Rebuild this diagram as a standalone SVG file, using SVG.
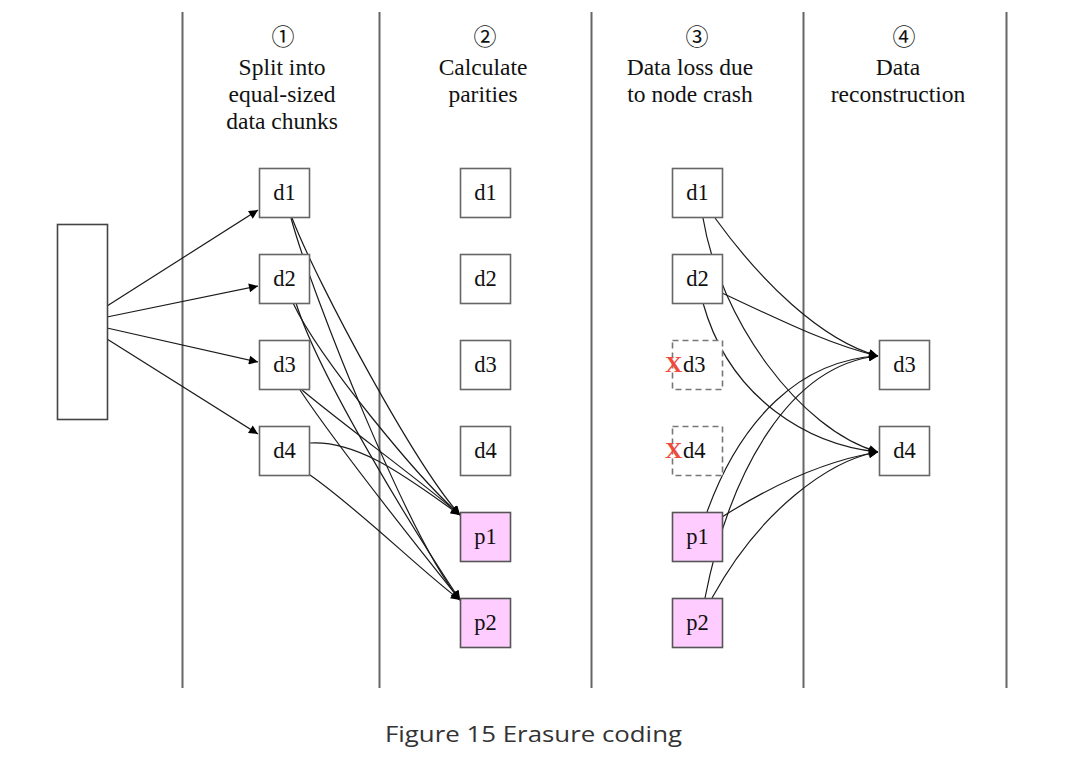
<svg xmlns="http://www.w3.org/2000/svg" width="1090" height="780" viewBox="0 0 1090 780">
<style>
.vl{stroke:#666;stroke-width:2;fill:none}
.hd{font-family:"Liberation Serif","Times New Roman",serif;font-size:23.5px;fill:#111;text-anchor:middle}
.cn{font-family:"Noto Sans CJK SC","DejaVu Sans",serif;font-size:23px;fill:#111;text-anchor:middle}
.box{fill:#fff;stroke:#666;stroke-width:1.6}
.par{fill:#ffccff;stroke:#555;stroke-width:1.6}
.lost{fill:#fff;stroke:#777;stroke-width:1.6;stroke-dasharray:6,4}
.lb{font-family:"Liberation Serif","Times New Roman",serif;font-size:22.5px;fill:#111;text-anchor:middle}
.lbl{font-family:"Liberation Serif","Times New Roman",serif;font-size:22.5px;fill:#111}
.x{font-family:"Liberation Serif","Times New Roman",serif;font-size:24px;font-weight:bold;fill:#f04a3a}
.e{fill:none;stroke:#1a1a1a;stroke-width:1.2}
.cap{font-family:"Open Sans","Noto Sans",sans-serif;font-size:22px;fill:#333}
</style>
<defs>
<marker id="ah" viewBox="0 0 10 10" refX="10" refY="5" markerWidth="12" markerHeight="9" markerUnits="userSpaceOnUse" orient="auto">
<path d="M0,0 L10,5 L0,10 z" fill="#000"/>
</marker>
</defs>
<rect width="1090" height="780" fill="#fff"/>
<g id="lanes">
<line class="vl" x1="182.5" y1="12" x2="182.5" y2="688"/>
<line class="vl" x1="379.5" y1="12" x2="379.5" y2="688"/>
<line class="vl" x1="591.5" y1="12" x2="591.5" y2="688"/>
<line class="vl" x1="803.5" y1="12" x2="803.5" y2="688"/>
<line class="vl" x1="1006.5" y1="12" x2="1006.5" y2="688"/>
</g>
<g id="headers">
<text class="cn" x="283" y="45">①</text>
<text class="hd" x="282" y="75">Split into</text>
<text class="hd" x="282" y="102">equal-sized</text>
<text class="hd" x="282" y="129">data chunks</text>
<text class="cn" x="485" y="45">②</text>
<text class="hd" x="483" y="75">Calculate</text>
<text class="hd" x="483" y="102">parities</text>
<text class="cn" x="697" y="45">③</text>
<text class="hd" x="690" y="75">Data loss due</text>
<text class="hd" x="690" y="102">to node crash</text>
<text class="cn" x="904" y="45">④</text>
<text class="hd" x="898" y="75">Data</text>
<text class="hd" x="898" y="102">reconstruction</text>
</g>
<g id="connectors">
<path class="e" marker-end="url(#ah)" d="M107,306 L258,210"/>
<path class="e" marker-end="url(#ah)" d="M107,317 L258,286"/>
<path class="e" marker-end="url(#ah)" d="M107,328 L258,362"/>
<path class="e" marker-end="url(#ah)" d="M107,339 L258,434"/>
<path class="e" marker-end="url(#ah)" d="M292,218 C318,285 415,465 460,515"/>
<path class="e" marker-end="url(#ah)" d="M291,218 C312,295 410,540 460,600"/>
<path class="e" marker-end="url(#ah)" d="M293,303 C320,360 420,480 460,515"/>
<path class="e" marker-end="url(#ah)" d="M296,303 C320,380 420,540 460,600"/>
<path class="e" marker-end="url(#ah)" d="M302,390 C350,430 420,480 460,515"/>
<path class="e" marker-end="url(#ah)" d="M300,390 C340,450 420,550 460,600"/>
<path class="e" marker-end="url(#ah)" d="M310,443 C360,440 410,480 460,515"/>
<path class="e" marker-end="url(#ah)" d="M310,475 C360,510 420,570 460,600"/>
<path class="e" marker-end="url(#ah)" d="M715,218 C760,280 820,340 878,356"/>
<path class="e" marker-end="url(#ah)" d="M703,218 C720,320 800,430 878,452"/>
<path class="e" marker-end="url(#ah)" d="M722,293 C780,320 830,345 878,356"/>
<path class="e" marker-end="url(#ah)" d="M703,303 C730,400 810,445 878,452"/>
<path class="e" marker-end="url(#ah)" d="M707,512 C740,420 800,360 878,356"/>
<path class="e" marker-end="url(#ah)" d="M722,517 C780,480 830,460 878,452"/>
<path class="e" marker-end="url(#ah)" d="M705,598 C730,470 790,365 878,356"/>
<path class="e" marker-end="url(#ah)" d="M712,598 C760,510 830,460 878,452"/>
</g>
<g id="source"><rect class="box" x="57.5" y="224.5" width="50" height="195" style="stroke:#444"/></g>
<g id="s1-d1"><rect class="box" x="259.5" y="168.5" width="50" height="49"/><text class="lb" x="284.5" y="200">d1</text></g>
<g id="s1-d2"><rect class="box" x="259.5" y="254.5" width="50" height="49"/><text class="lb" x="284.5" y="286">d2</text></g>
<g id="s1-d3"><rect class="box" x="259.5" y="340.5" width="50" height="49"/><text class="lb" x="284.5" y="372">d3</text></g>
<g id="s1-d4"><rect class="box" x="259.5" y="426.5" width="50" height="49"/><text class="lb" x="284.5" y="458">d4</text></g>
<g id="s2-d1"><rect class="box" x="460.5" y="168.5" width="50" height="49"/><text class="lb" x="485.5" y="200">d1</text></g>
<g id="s2-d2"><rect class="box" x="460.5" y="254.5" width="50" height="49"/><text class="lb" x="485.5" y="286">d2</text></g>
<g id="s2-d3"><rect class="box" x="460.5" y="340.5" width="50" height="49"/><text class="lb" x="485.5" y="372">d3</text></g>
<g id="s2-d4"><rect class="box" x="460.5" y="426.5" width="50" height="49"/><text class="lb" x="485.5" y="458">d4</text></g>
<g id="s2-p1"><rect class="par" x="460.5" y="512.5" width="50" height="49"/><text class="lb" x="485.5" y="544">p1</text></g>
<g id="s2-p2"><rect class="par" x="460.5" y="598.5" width="50" height="49"/><text class="lb" x="485.5" y="630">p2</text></g>
<g id="s3-d1"><rect class="box" x="672.5" y="168.5" width="50" height="49"/><text class="lb" x="697.5" y="200">d1</text></g>
<g id="s3-d2"><rect class="box" x="672.5" y="254.5" width="50" height="49"/><text class="lb" x="697.5" y="286">d2</text></g>
<g id="s3-d3"><rect class="lost" x="672.5" y="340.5" width="50" height="49"/><text class="x" x="665" y="372">X</text><text class="lbl" x="683" y="372">d3</text></g>
<g id="s3-d4"><rect class="lost" x="672.5" y="426.5" width="50" height="49"/><text class="x" x="665" y="458">X</text><text class="lbl" x="683" y="458">d4</text></g>
<g id="s3-p1"><rect class="par" x="672.5" y="512.5" width="50" height="49"/><text class="lb" x="697.5" y="544">p1</text></g>
<g id="s3-p2"><rect class="par" x="672.5" y="598.5" width="50" height="49"/><text class="lb" x="697.5" y="630">p2</text></g>
<g id="s4-d3"><rect class="box" x="879.5" y="340.5" width="50" height="49"/><text class="lb" x="904.5" y="372">d3</text></g>
<g id="s4-d4"><rect class="box" x="879.5" y="426.5" width="50" height="49"/><text class="lb" x="904.5" y="458">d4</text></g>
<text class="cap" x="385" y="742" textLength="297" lengthAdjust="spacingAndGlyphs">Figure 15 Erasure coding</text>
</svg>
